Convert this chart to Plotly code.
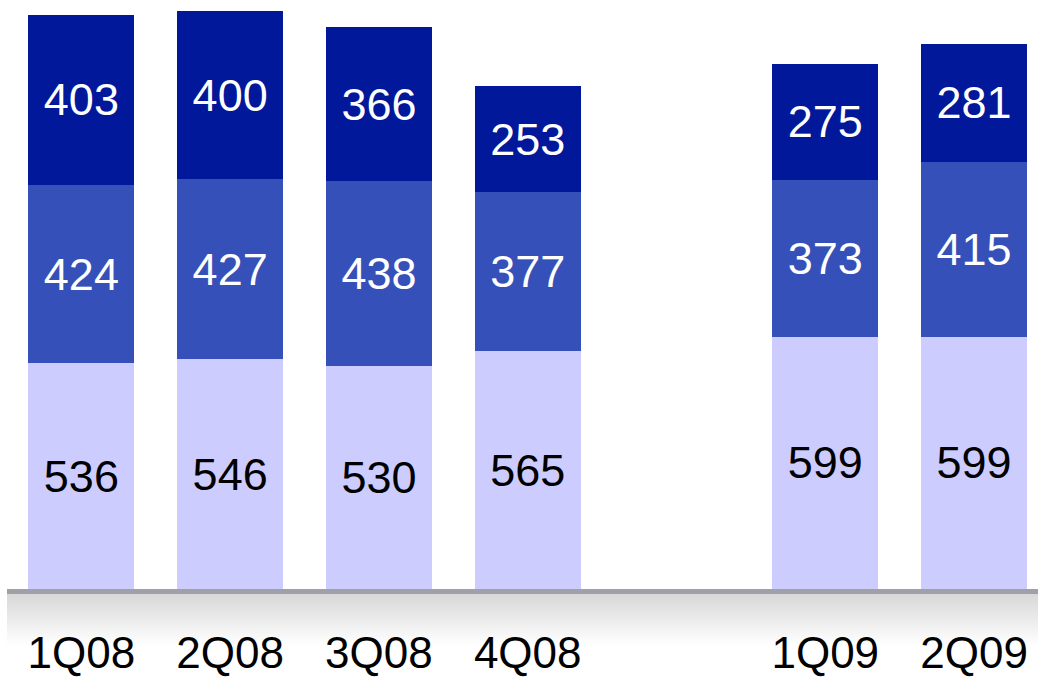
import plotly.graph_objects as go

# Quarterly figures, stacked bottom to top
quarters = ["1Q08", "2Q08", "3Q08", "4Q08", " ", "1Q09", "2Q09"]
bar_quarters = ["1Q08", "2Q08", "3Q08", "4Q08", "1Q09", "2Q09"]
bottom_vals = [536, 546, 530, 565, 599, 599]
middle_vals = [424, 427, 438, 377, 373, 415]
top_vals = [403, 400, 366, 253, 275, 281]

FONT = "Liberation Sans, Arial, sans-serif"

fig = go.Figure()
for vals, fill, txt in [
    (bottom_vals, "#CCCCFF", "black"),
    (middle_vals, "#3650B9", "white"),
    (top_vals, "#001899", "white"),
]:
    fig.add_trace(go.Bar(
        x=bar_quarters, y=vals,
        marker=dict(color=fill, line=dict(width=0)),
        texttemplate="%{y}", textposition="inside",
        insidetextanchor="middle", textangle=0,
        textfont=dict(family=FONT, size=45, color=txt),
        hoverinfo="skip", showlegend=False,
    ))

# Plot-area geometry (pixels) used to place the base band
W, H = 1038, 678
ML, MR, MT, MB = 7, 0, 0, 89
pw, ph = W - ML - MR, H - MT - MB


def py(ypix):
    return (H - MB - ypix) / ph


shapes = []
# soft grey gradient under the axis
band_top, band_bot = 594, 646
steps = band_bot - band_top
for i in range(steps):
    t = i / (steps - 1)
    g = int(round(216 + (255 - 216) * t))
    shapes.append(dict(
        type="rect", xref="paper", yref="paper", layer="below",
        x0=0, x1=1, y0=py(band_top + i), y1=py(band_top + i + 1),
        fillcolor=f"rgb({g},{g},{g})", line=dict(width=0),
    ))
# axis bar
shapes.append(dict(
    type="rect", xref="paper", yref="paper",
    x0=0, x1=1, y0=py(589), y1=py(594),
    fillcolor="#A0A0A8", line=dict(width=0),
))

fig.update_layout(
    barmode="stack",
    bargap=0.287,
    width=W, height=H,
    margin=dict(l=ML, r=MR, t=MT, b=MB, pad=0, autoexpand=False),
    plot_bgcolor="white", paper_bgcolor="white",
    shapes=shapes,
    uniformtext=dict(minsize=45, mode="show"),
    xaxis=dict(
        type="category", categoryorder="array", categoryarray=quarters,
        range=[-0.5, 6.43], showgrid=False, zeroline=False, showline=False,
        automargin=False,
        ticks="outside", ticklen=25, tickcolor="rgba(0,0,0,0)",
        tickfont=dict(family=FONT, size=44, color="black"),
    ),
    yaxis=dict(range=[0, 1399], visible=False, showgrid=False,
               automargin=False),
)

fig.write_html("out.html")
